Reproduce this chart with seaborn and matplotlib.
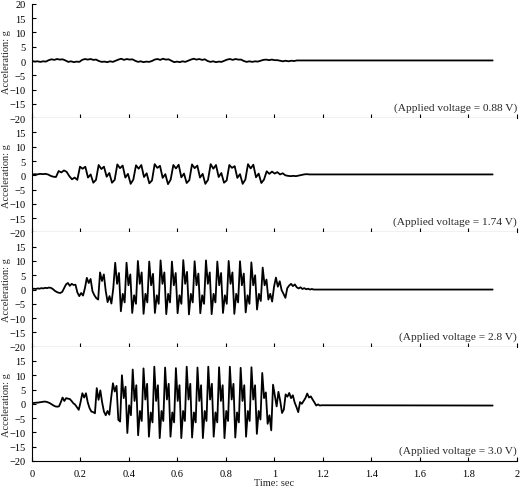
import numpy as np
import pandas as pd
import matplotlib
matplotlib.use("Agg")
import matplotlib.pyplot as plt
import seaborn as sns

# --- datos (aceleracion en g, muestreo uniforme por panel) ---
voltages = ["0.88", "1.74", "2.8", "3.0"]
sample_dt = [0.0115, 0.011, 0.0078, 0.00742]   # s entre muestras
record_end = 1.9                                # fin del registro, s
tail_level = [0.2, 0.3, 0.0, -0.6]              # nivel plano al final

acc_088 = [0.0, -0.2, -0.1, -0.3, -0.1, -0.2,
           0.3, 0.6, 0.4, 0.7, 0.5, 0.6,
           0.2, -0.3, -0.1, -0.4, -0.2, -0.3,
           0.4, 0.7, 0.5, 0.7, 0.4, 0.5,
           0.0, -0.3, -0.2, -0.4, -0.1, -0.3, 0.1,
           0.5, 0.8, 0.4, 0.7, 0.5, 0.6,
           0.1, -0.3, -0.1, -0.4, -0.2, -0.3, 0.0,
           0.5, 0.7, 0.4, 0.8, 0.5, 0.6,
           0.1, -0.4, -0.2, -0.4, -0.1, -0.3, 0.1,
           0.5, 0.8, 0.5, 0.7, 0.4, 0.6,
           0.0, -0.3, -0.1, -0.4, -0.2, -0.3, 0.1,
           0.5, 0.7, 0.4, 0.7, 0.5, 0.5,
           0.0, -0.3, -0.1, -0.3, -0.1, -0.2, 0.1,
           0.4, 0.5, 0.3, 0.5, 0.3, 0.3,
           0.1, -0.1, 0.1, -0.1, 0.1, 0.0, 0.2]

acc_174 = [0.2, 0.4, 0.3, 0.5, 0.4, 0.5, 0.3,
           -0.2, -0.5, -0.6,
           1.5, 1.0, 1.7, 1.2, -0.3, -1.4, -0.8, -1.6,
           3.0, 2.3, 3.0, -0.8, 0.3, -2.6, -1.6,
           3.6, 2.2, 3.0, -0.5, 0.8, -2.6, -1.6,
           3.8, 2.5, 3.4, -0.8, 0.5, -3.0, -1.5,
           3.5, 2.3, 3.6, -0.6, 0.7, -2.8, -1.8,
           3.9, 2.6, 3.3, -0.9, 0.4, -3.1, -1.5,
           3.6, 2.4, 3.7, -0.7, 0.6, -2.7, -1.7,
           3.8, 2.5, 3.4, -0.8, 0.5, -3.0, -1.6,
           3.9, 2.3, 3.6, -0.6, 0.8, -2.6, -1.8,
           3.6, 2.6, 3.2, -0.9, 0.4, -3.0, -1.5,
           3.9, 2.4, 3.7, -0.7, 0.6, -2.7, -1.5,
           1.4, 0.5, 1.3, 0.6, 1.1, 0.3, 0.7, 0.0, -0.2,
           -0.3, -0.2, -0.3, -0.1, 0.1, 0.3, 0.4, 0.3]

acc_280 = [0.2, 0.3, 0.2, 0.4, 0.3, 0.5, 0.4, 0.6, 0.5, 0.7,
           0.6, 0.2, -0.4, -0.8, -1.1, -1.2, -0.8, 0.5, 1.8, 2.3,
           1.3, 2.0, 1.6, 1.7, -1.0, -2.3, -1.2, -2.1, 0.5, 4.1,
           2.3, 3.7, -0.6, -2.0, -3.0, -3.5, 6.0, 3.0, 5.3, -0.5,
           -4.4, -2.3, -4.9, 0.5,
           9.4, 2.0, 5.8, -7.6, -1.5, -4.5,
           9.4, 1.5, 5.3, -8.2, -2.0, -5.0,
           10.0, 2.0, 6.0, -8.5, -1.5, -4.5,
           9.8, 1.5, 5.5, -8.2, -2.0, -5.0,
           10.2, 2.0, 6.0, -8.6, -1.5, -4.5,
           9.8, 1.5, 5.8, -8.3, -2.0, -5.0,
           10.3, 2.0, 6.2, -8.7, -1.5, -4.5,
           9.9, 1.5, 5.6, -8.3, -2.0, -5.0,
           10.2, 2.0, 6.0, -8.6, -1.5, -4.5,
           9.8, 1.5, 5.8, -8.2, -2.0, -5.0,
           10.0, 2.0, 6.0, -8.5, -1.5, -4.5,
           9.9, 1.5, 5.6, -8.0, -2.0, -5.0,
           9.5, 1.5, 5.0, -7.0, -1.5, -4.0,
           7.7, 1.5, 3.5, -3.5, -1.5, -4.2, 1.0, 4.2, 1.0, 2.9,
           -0.2, -1.5, -2.9, 0.5, 1.4, 2.0, 1.2, 1.8, 0.8, 0.4,
           0.8, 0.2, 0.5, 0.1, 0.3, 0.0, 0.2, 0.0]

acc_300 = [0.3, 0.3, 0.4, 0.4, 0.5, 0.6, 0.7, 0.8, 0.7, 0.5,
           0.2, -0.2, -0.6, -0.9, -1.0, -0.9, 0.5, 2.2, 1.0, 2.0,
           1.8, 1.7, 1.0, 0.2, -0.3, -1.2, -2.1, 0.6, 3.7, 2.2,
           3.7, 0.5, -1.5, -2.7, -2.9, -3.3, 5.5, 1.4, 4.7, 0.5,
           -2.7, -4.0, -2.5, -3.8, 2.0, 7.2, 4.3, 6.3, -5.6, -6.2,
           10.0, 2.0, 6.0, -10.2, -0.5, -4.0,
           12.0, 1.0, 6.5, -11.0, -2.5, -6.0,
           12.4, 1.5, 7.0, -11.5, -3.0, -6.5,
           13.0, 1.0, 6.5, -12.0, -2.5, -6.0,
           12.7, 1.5, 7.0, -11.5, -3.0, -6.5,
           12.5, 1.0, 6.5, -12.0, -2.5, -6.0,
           13.0, 1.5, 7.0, -11.8, -3.0, -6.5,
           12.7, 1.0, 6.5, -12.0, -2.5, -6.0,
           13.0, 1.5, 7.0, -11.5, -3.0, -6.5,
           12.8, 1.0, 6.5, -12.0, -2.5, -6.0,
           13.0, 1.5, 7.0, -11.8, -3.0, -6.5,
           12.6, 1.0, 6.5, -11.5, -2.5, -6.0,
           12.8, 1.5, 6.5, -10.5, -2.5, -5.5,
           10.8, 2.0, 4.0, -7.0, -4.0, -9.3, 6.7, 3.0, -0.9, 4.2,
           1.0, -3.2, -2.0, 3.3, 2.5, 3.8, 2.0, 3.0, 0.5, -1.1,
           -2.9, 0.6, 0.0, 1.0, 2.0, 3.6, 2.2, 2.6, 1.5, 0.5,
           -0.6, -0.2, -0.6, -0.5]

# --- tabla larga para seaborn ---
frames = []
for v, acc, dt, tail in zip(voltages, [acc_088, acc_174, acc_280, acc_300],
                            sample_dt, tail_level):
    t = np.arange(len(acc)) * dt
    frames.append(pd.DataFrame({"time": np.append(t, record_end),
                                "acc": np.append(acc, tail),
                                "voltage": v}))
df = pd.concat(frames, ignore_index=True)

sns.set_theme(style="ticks")
plt.rcParams["font.family"] = ["Liberation Serif", "DejaVu Serif"]

fig, axes = plt.subplots(4, 1, figsize=(5.2, 4.89), dpi=100, sharex=True)
fig.subplots_adjust(left=0.0615, right=0.994, top=0.99, bottom=0.0553, hspace=0)

fs = 7.5
for i, (ax, v) in enumerate(zip(axes, voltages)):
    sns.lineplot(data=df[df["voltage"] == v], x="time", y="acc", ax=ax,
                 color="black", linewidth=1.3, estimator=None, sort=False)
    ax.set_xlim(0, 2)
    ax.set_ylim(-20, 20)
    ax.set_xticks(np.arange(0, 2.01, 0.2))
    ax.set_xticklabels(["0", "0.2", "0.4", "0.6", "0.8", "1", "1.2", "1.4", "1.6", "1.8", "2"])
    if i == 0:
        ax.set_yticks(np.arange(-20, 21, 5))
    else:
        ax.set_yticks(np.arange(-20, 16, 5))
    sns.despine(ax=ax)
    for s in ["left", "bottom"]:
        ax.spines[s].set_linewidth(0.8)
        ax.spines[s].set_color("black")
    ax.tick_params(axis="y", direction="in", length=3, width=0.8, labelsize=fs, pad=4.5, colors="black")
    ax.tick_params(axis="x", direction="in", length=3, width=0.8, labelsize=fs, pad=6, colors="black")
    ax.set_ylabel("Acceleration: g", fontsize=fs)
    ax.yaxis.set_label_coords(-0.043, 0.5)
    ax.set_xlabel("")
    ax.text(1.0, 0.095, f"(Applied voltage = {v} V)", transform=ax.transAxes,
            ha="right", va="center", fontsize=8.2)

axes[-1].set_xlabel("Time: sec", fontsize=fs, labelpad=0)

fig.savefig("out.png", dpi=100)
